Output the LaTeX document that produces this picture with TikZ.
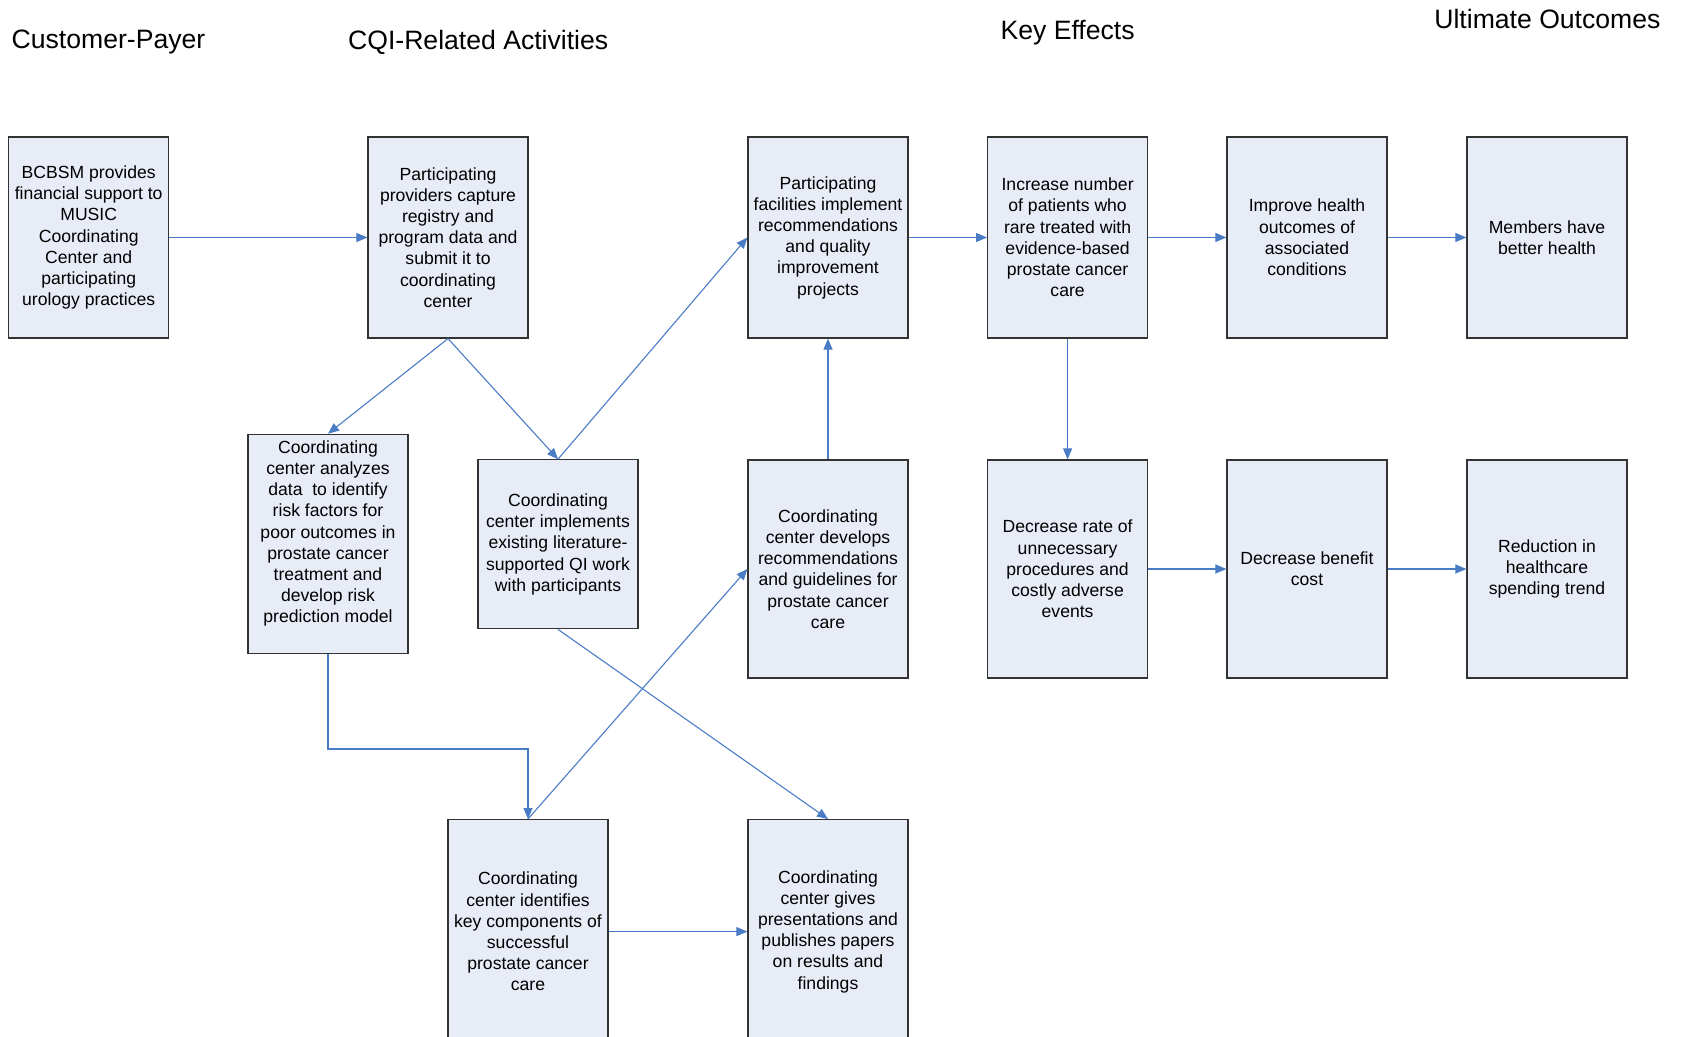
\documentclass[tikz,border=0pt]{standalone}
\usepackage{fontspec}
\setmainfont{Liberation Sans}
\usetikzlibrary{arrows.meta}
\definecolor{boxfill}{HTML}{E7ECF7}
\definecolor{boxline}{HTML}{333333}
\definecolor{linkblue}{HTML}{4A7CC6}

\begin{document}
\begin{tikzpicture}[x=0.5pt,y=-0.5pt,
  box/.style={draw=boxline,fill=boxfill,line width=0.6pt,align=center,
    font=\fontsize{8.8}{10.6}\selectfont,minimum width=80pt,inner sep=2pt},
  link/.style={draw=linkblue,line width=0.55pt,-{Triangle[length=5.5pt,width=4.5pt]}},
  heading/.style={font=\fontsize{13.3}{16}\selectfont}]
  \useasboundingbox (0,0) rectangle (1685,1037);

  % column headings
  \node[heading] (hcust) at (108.5,42) {Customer-Payer};
  \node[heading] (hcqi) at (478.2,42) {CQI-Related Activities};
  \node[heading] (hkey) at (1067.6,32.3) {Key Effects};
  \node[heading] (hult) at (1547.4,19.3) {Ultimate Outcomes};

  % customer-payer and activities
  \node[box,minimum height=100.5pt] (bcbsm) at (88.7,237.5)
    {BCBSM provides\\financial support to\\MUSIC\\Coordinating\\Center and\\participating\\urology practices};
  \node[box,minimum height=100.5pt] (capture) at (448,237.5)
    {Participating\\providers capture\\registry and\\program data and\\submit it to\\coordinating\\center};
  \node[box,minimum height=109.5pt,text depth=12pt] (analyze) at (328,543.8)
    {Coordinating\\center analyzes\\data\ \ to identify\\risk factors for\\poor outcomes in\\prostate cancer\\treatment and\\develop risk\\prediction model};
  \node[box,minimum height=84.5pt] (qiwork) at (558,544.3)
    {Coordinating\\center implements\\existing literature-\\supported QI work\\with participants};
  \node[box,minimum height=100.5pt] (facil) at (828,237.5)
    {Participating\\facilities implement\\recommendations\\and quality\\improvement\\projects};
  \node[box,minimum height=109pt] (guide) at (828,569)
    {Coordinating\\center develops\\recommendations\\and guidelines for\\prostate cancer\\care};
  \node[box,minimum height=112pt,anchor=north] (keycomp) at (528,819)
    {Coordinating\\center identifies\\key components of\\successful\\prostate cancer\\care};
  \node[box,minimum height=112pt,anchor=north] (present) at (828,819)
    {Coordinating\\center gives\\presentations and\\publishes papers\\on results and\\findings};

  % effects and outcomes
  \node[box,minimum height=100.5pt] (increase) at (1067.6,237.5)
    {Increase number\\of patients who\\rare treated with\\evidence-based\\prostate cancer\\care};
  \node[box,minimum height=109pt] (decrate) at (1067.6,569)
    {Decrease rate of\\unnecessary\\procedures and\\costly adverse\\events};
  \node[box,minimum height=100.5pt] (improve) at (1307,237.5)
    {Improve health\\outcomes of\\associated\\conditions};
  \node[box,minimum height=109pt] (benefit) at (1307,569)
    {Decrease benefit\\cost};
  \node[box,minimum height=100.5pt] (members) at (1547,237.5)
    {Members have\\better health};
  \node[box,minimum height=109pt] (spend) at (1547,569)
    {Reduction in\\healthcare\\spending trend};

  \coordinate (elbow) at (328,749);

  % connectors
  \draw[link] (bcbsm) -- (capture);
  \draw[link] (capture.south) -- (analyze.north);
  \draw[link] (capture.south) -- (qiwork.north);
  \draw[link] (qiwork.north) -- (facil.west);
  \draw[link] (analyze.south) -- (elbow) -| (keycomp.north);
  \draw[link] (keycomp.north) -- (guide.west);
  \draw[link] (qiwork.south) -- (present.north);
  \draw[link] (keycomp) -- (present);
  \draw[link] (guide) -- (facil);
  \draw[link] (facil) -- (increase);
  \draw[link] (increase) -- (decrate);
  \draw[link] (increase) -- (improve);
  \draw[link] (improve) -- (members);
  \draw[link] (decrate) -- (benefit);
  \draw[link] (benefit) -- (spend);
\end{tikzpicture}
\end{document}
